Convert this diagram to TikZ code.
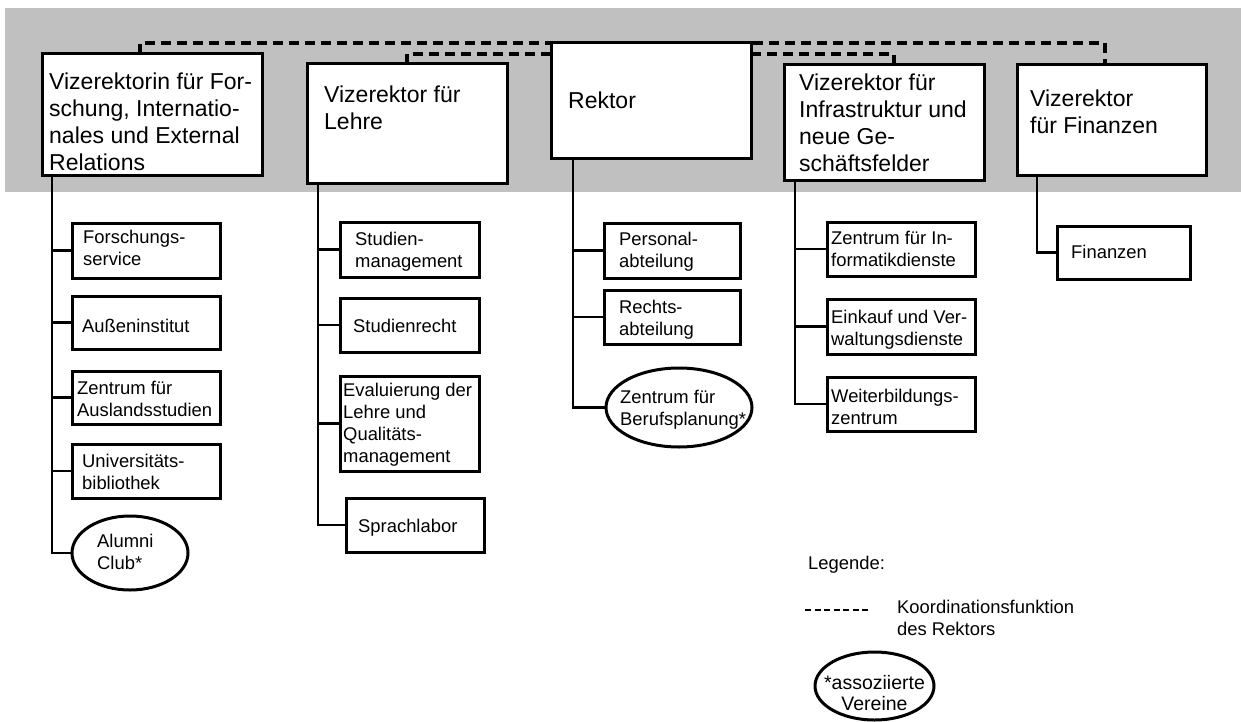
\documentclass[tikz,border=0pt]{standalone}
\usepackage{fontspec}
\setmainfont{Liberation Sans}
\usetikzlibrary{shapes.geometric}
\definecolor{band}{RGB}{192,192,192}
\newcommand\mystrut{\rule{0pt}{0.8em}}
\newcommand\mkbox[5]{\node[boxs, minimum width={(#4-#2)*1pt}, minimum height={(#5-#3)*1pt}] (#1) at ({(#2+#4)/2},{-(#3+#5)/2}) {};}
\begin{document}
\begin{tikzpicture}[x=1pt,y=1pt,
  boxs/.style={draw, rectangle, fill=white, line width=3pt, inner sep=0pt, outer sep=0pt},
  ell/.style={draw, ellipse, fill=white, line width=3pt, inner sep=0pt, outer sep=0pt},
  bigt/.style={font=\fontsize{23}{27}\selectfont, align=left, inner sep=0pt, anchor=north west},
  smt/.style={font=\fontsize{18.4}{22}\selectfont, align=left, inner sep=0pt, anchor=north west},
  conn/.style={line width=2.7pt},
  coord/.style={line width=3.4pt, dash pattern=on 10pt off 6pt},
  legdash/.style={line width=2.4pt, dash pattern=on 6pt off 3.5pt}]
\useasboundingbox (0,0) rectangle (1244,-722);
\fill[band] (5,-8) rectangle (1241,-192);

% coordination (dashed)
\coordinate (c1) at (140,-54);
\coordinate (c3) at (651,-43);
\coordinate (c5) at (1105,-65);
\coordinate (c2) at (407,-64);
\coordinate (c3w) at (551,-54);
\coordinate (c3e) at (751,-54);
\coordinate (c4) at (894,-65);
\draw[coord] (c1) |- (c3) -| (c5);
\draw[coord] (c2) |- (c3w);
\draw[coord] (c3e) -| (c4);

% top level boxes
\mkbox{b1}{42}{54}{262}{176}
\mkbox{b2}{307}{64}{507}{184}
\mkbox{b3}{551}{43}{751}{159}
\mkbox{b4}{784}{65}{984}{181}
\mkbox{b5}{1017}{65}{1206}{176}

% sub boxes
\mkbox{s11}{72}{223}{220}{278}
\mkbox{s12}{72}{296}{220}{349}
\mkbox{s13}{72}{371}{220}{424}
\mkbox{s14}{72}{444}{220}{498}
\node[ell, minimum width=116pt, minimum height=74pt] (s15) at (130,-553) {};
\mkbox{s21}{340}{222}{479}{277}
\mkbox{s22}{340}{298}{479}{352}
\mkbox{s23}{340}{376}{479}{471}
\mkbox{s24}{346}{498}{484}{552}
\mkbox{s31}{604}{223}{740}{278}
\mkbox{s32}{604}{290}{740}{344}
\node[ell, minimum width=146pt, minimum height=79pt] (s33) at (679,-407.5) {};
\mkbox{s41}{827}{222}{975}{276}
\mkbox{s42}{827}{299}{975}{354}
\mkbox{s43}{827}{377}{975}{431}
\mkbox{s51}{1057}{226}{1190}{279}

% connectors
\foreach \s in {s11,s12,s13,s14,s15}
  \draw[conn] ([xshift=10pt]b1.south west) |- (\s.west);
\foreach \s in {s21,s22,s23,s24}
  \draw[conn] ([xshift=11pt]b2.south west) |- (\s.west);
\foreach \s in {s31,s32,s33}
  \draw[conn] ([xshift=22pt]b3.south west) |- (\s.west);
\foreach \s in {s41,s42,s43}
  \draw[conn] ([xshift=11pt]b4.south west) |- (\s.west);
\draw[conn] ([xshift=20pt]b5.south west) |- (s51.west);

% texts top
\node[bigt] (t1) at (49,-70.6) {\mystrut Vizerektorin für For-\\schung, Internatio-\\nales und External\\Relations};
\node[bigt] (t2) at (324,-83.6) {\mystrut Vizerektor für\\Lehre};
\node[bigt] (t3) at (568,-90) {\mystrut Rektor};
\node[bigt] (t4) at (799,-71.6) {\mystrut Vizerektor für\\Infrastruktur und\\neue Ge-\\schäftsfelder};
\node[bigt] (t5) at (1030,-87.6) {\mystrut Vizerektor\\für Finanzen};

% texts sub
\node[smt] (u11) at (83,-228.3) {\mystrut Forschungs-\\service};
\node[smt] (u12) at (82,-317.3) {\mystrut Außeninstitut};
\node[smt] (u13) at (77,-379.3) {\mystrut Zentrum für\\Auslandsstudien};
\node[smt] (u14) at (82,-452.3) {\mystrut Universitäts-\\bibliothek};
\node[smt] (u15) at (97,-532.3) {\mystrut Alumni\\Club*};
\node[smt] (u21) at (355,-230.3) {\mystrut Studien-\\management};
\node[smt] (u22) at (353,-317.3) {\mystrut Studienrecht};
\node[smt] (u23) at (343,-381.3) {\mystrut Evaluierung der\\Lehre und\\Qualitäts-\\management};
\node[smt] (u24) at (358,-517.3) {\mystrut Sprachlabor};
\node[smt] (u31) at (619,-230.3) {\mystrut Personal-\\abteilung};
\node[smt] (u32) at (619,-298.3) {\mystrut Rechts-\\abteilung};
\node[smt] (u33) at (620,-388.3) {\mystrut Zentrum für\\Berufsplanung*};
\node[smt] (u41) at (831,-229.3) {\mystrut Zentrum für In-\\formatikdienste};
\node[smt] (u42) at (831,-308.3) {\mystrut Einkauf und Ver-\\waltungsdienste};
\node[smt] (u43) at (831,-387.3) {\mystrut Weiterbildungs-\\zentrum};
\node[smt] (u51) at (1071,-243.3) {\mystrut Finanzen};

% legend
\node[smt] (lg) at (808,-554.3) {\mystrut Legende:};
\coordinate (l1) at (805,-610);
\coordinate (l2) at (870,-610);
\draw[legdash] (l1) -- (l2);
\node[smt] (lk) at (897,-598.3) {\mystrut Koordinationsfunktion\\des Rektors};
\node[ell, minimum width=119pt, minimum height=68pt] (le) at (874.5,-686) {};
\node[align=center, inner sep=0pt, font=\fontsize{19.5}{21.5}\selectfont] (let) at (874.5,-693) {*assoziierte\\Vereine};
\end{tikzpicture}
\end{document}
